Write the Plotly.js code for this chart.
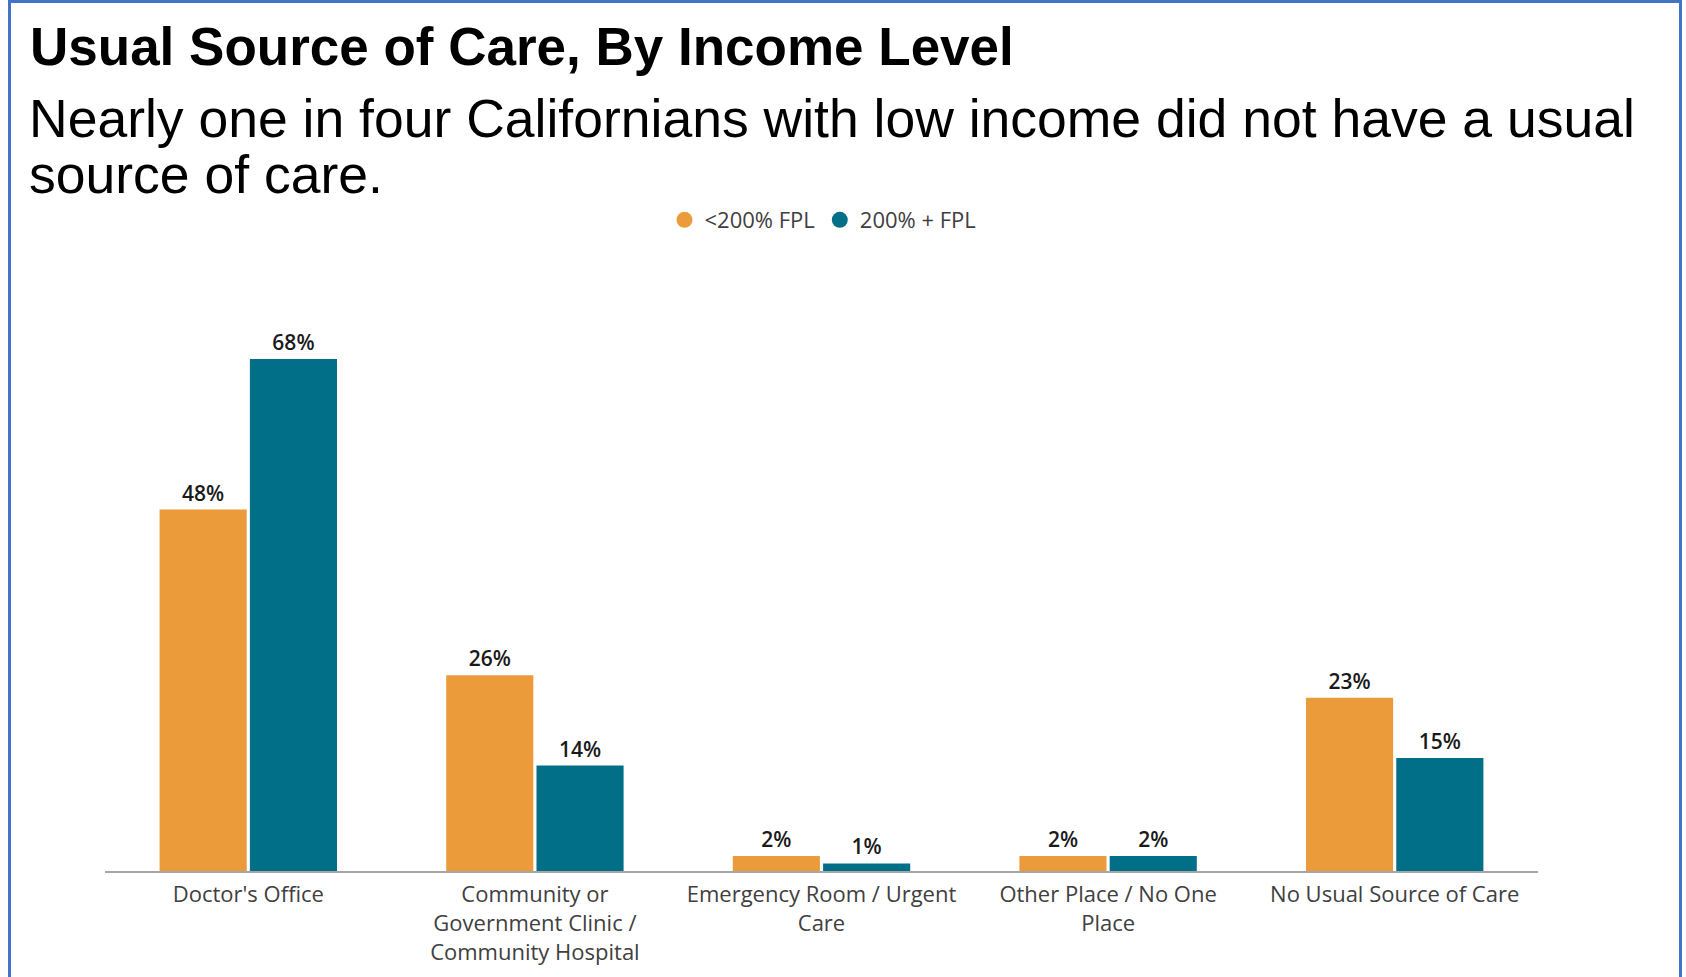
<!DOCTYPE html>
<html>
<head>
<meta charset="utf-8">
<script src="https://cdn.plot.ly/plotly-3.0.1.min.js"></script>
<style>
  html, body { margin: 0; padding: 0; background: #ffffff; overflow: hidden; }
  #chart { width: 1686px; height: 977px; }
</style>
</head>
<body>
<div id="chart"></div>
<script>
// ---- data ----
const categories = [
  "Doctor's Office",
  "Community or<br>Government Clinic /<br>Community Hospital",
  "Emergency Room / Urgent<br>Care",
  "Other Place / No One<br>Place",
  "No Usual Source of Care"
];
const seriesNames = ["<200% FPL", "200% + FPL"];
const lowIncome = [48, 26, 2, 2, 23];
const higherIncome = [68, 14, 1, 2, 15];
const titleText = "Usual Source of Care, By Income Level";
const subtitleLine1 = "Nearly one in four Californians with low income did not have a usual";
const subtitleLine2 = "source of care.";

// ---- styling ----
const ORANGE = "#EC9B3B";
const TEAL = "#016F87";
const tickFont = { family: "Open Sans, Noto Sans, sans-serif", size: 22, color: "#404040" };
const labelFont = { family: "Open Sans, Noto Sans, sans-serif", size: 21, color: "#1a1a1a", weight: 600 };

// plot area geometry (px)
const W = 1686, H = 977;
const mL = 105, mR = 148, mT = 260, mB = 106;
const plotW = W - mL - mR, plotH = H - mT - mB;
const pxPerUnit = 7.529;
const yMax = plotH / pxPerUnit;
const px2x = p => (p - mL) / plotW;
const px2y = p => (H - mB - p) / plotH;

const barCommon = {
  type: "bar",
  x: categories,
  texttemplate: "%{y}%",
  textposition: "outside",
  cliponaxis: false,
  constraintext: "none",
  textfont: labelFont,
  outsidetextfont: labelFont,
  showlegend: false,
  hoverinfo: "x+y"
};

const traces = [
  Object.assign({}, barCommon, { name: seriesNames[0], y: lowIncome, marker: { color: ORANGE } }),
  Object.assign({}, barCommon, { name: seriesNames[1], y: higherIncome, marker: { color: TEAL } }),
  // legend-only circle markers
  { type: "scatter", mode: "markers", x: [null], y: [null], name: seriesNames[0],
    marker: { color: ORANGE, size: 16, symbol: "circle" }, showlegend: true, hoverinfo: "skip" },
  { type: "scatter", mode: "markers", x: [null], y: [null], name: seriesNames[1],
    marker: { color: TEAL, size: 16, symbol: "circle" }, showlegend: true, hoverinfo: "skip" }
];

const layout = {
  width: W, height: H,
  paper_bgcolor: "#ffffff",
  plot_bgcolor: "#ffffff",
  margin: { l: mL, r: mR, t: mT, b: mB, pad: 0 },
  barmode: "group",
  bargap: 0.37,
  bargroupgap: 0.035,
  title: {
    text: "<b>" + titleText + "</b>",
    font: { family: "Liberation Sans, Arial, sans-serif", size: 53, color: "#000000" },
    xref: "container", yref: "container",
    x: 30 / W, xanchor: "left",
    y: 1 - 46 / H, yanchor: "middle"
  },
  annotations: [
    { text: subtitleLine1, xref: "paper", yref: "paper", x: px2x(27), y: px2y(118),
      xanchor: "left", yanchor: "middle", showarrow: false,
      font: { family: "Liberation Sans, Arial, sans-serif", size: 53.5, color: "#000000" } },
    { text: subtitleLine2, xref: "paper", yref: "paper", x: px2x(27), y: px2y(174),
      xanchor: "left", yanchor: "middle", showarrow: false,
      font: { family: "Liberation Sans, Arial, sans-serif", size: 53.5, color: "#000000" } }
  ],
  legend: {
    orientation: "h",
    x: px2x(823), xanchor: "center",
    y: px2y(220), yanchor: "middle",
    font: { family: "Open Sans, Noto Sans, sans-serif", size: 22, color: "#404040" },
    itemsizing: "trace"
  },
  xaxis: {
    type: "category",
    showline: true, linecolor: "#a6a6a6", linewidth: 2,
    ticks: "", showgrid: false, zeroline: false,
    ticklabelstandoff: 3,
    tickfont: tickFont, fixedrange: true
  },
  yaxis: {
    range: [0, yMax],
    showgrid: false, zeroline: false, showline: false,
    showticklabels: false, ticks: "", fixedrange: true
  },
  shapes: [
    { type: "rect", xref: "paper", yref: "paper",
      x0: px2x(9.5), x1: px2x(1680.5), y0: px2y(1010), y1: px2y(1.5),
      line: { color: "#4472C4", width: 3 }, fillcolor: "rgba(0,0,0,0)", layer: "above" }
  ]
};

Plotly.newPlot("chart", traces, layout, { displayModeBar: false, staticPlot: true });
</script>
</body>
</html>
